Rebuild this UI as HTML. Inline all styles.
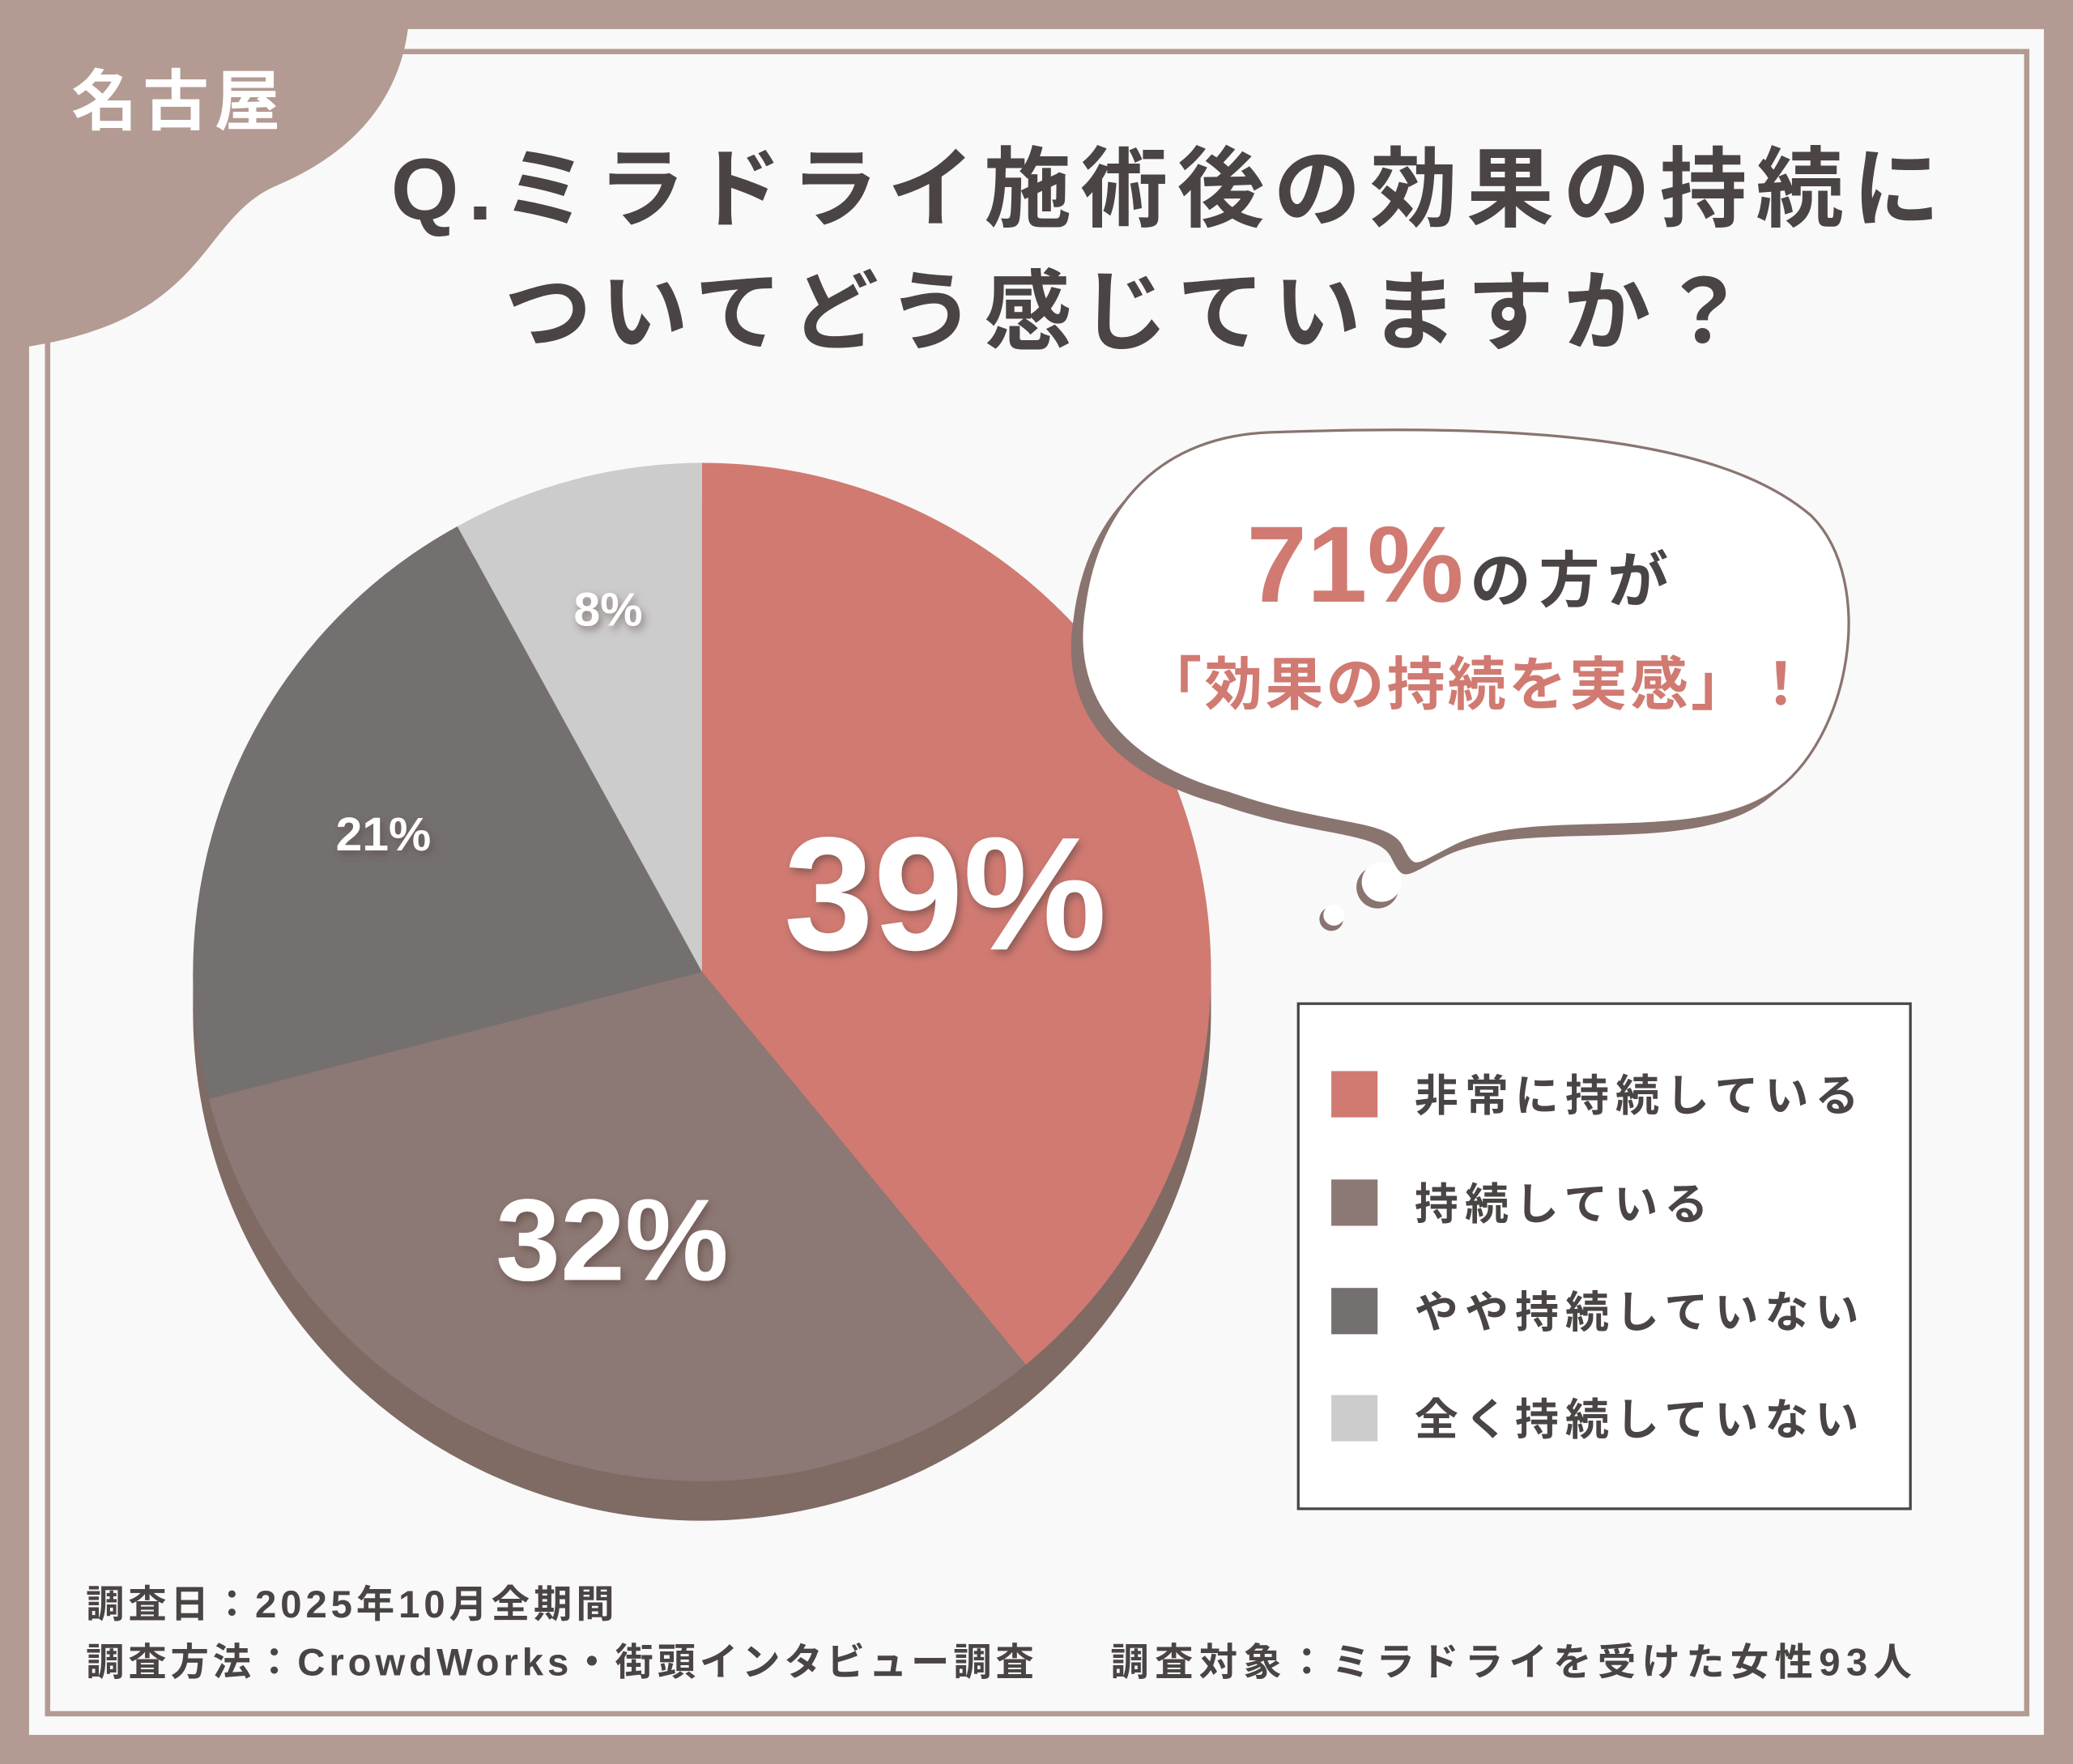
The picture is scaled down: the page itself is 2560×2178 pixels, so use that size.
<!DOCTYPE html>
<html><head><meta charset="utf-8"><style>
html,body{margin:0;padding:0;background:#b39a92;}
svg{display:block;}
text{font-family:"Liberation Sans","Noto Sans CJK JP",sans-serif;font-weight:bold;}
</style></head><body>
<svg width="2560" height="2178" viewBox="0 0 1568 1334" xmlns="http://www.w3.org/2000/svg">
<defs>
<filter id="ts" x="-20%" y="-20%" width="140%" height="140%"><feDropShadow dx="2" dy="3" stdDeviation="3" flood-color="#5a4540" flood-opacity="0.6"/></filter>
</defs>
<rect x="0" y="0" width="1568" height="1334" fill="#b39a92"/>
<rect x="22" y="22" width="1524" height="1290" fill="#f9f9f9"/>
<rect x="36" y="39" width="1497" height="1257" fill="none" stroke="#b39a92" stroke-width="4"/>
<path d="M0 0 L310 0 C310 60 280 110 210 140 C150 165 160 240 22 262 L0 262 Z" fill="#b39a92"/>
<text x="135" y="94" font-size="50" fill="#fff" text-anchor="middle" letter-spacing="4">名古屋</text>
<text x="885" y="166" font-size="66" fill="#4a4444" text-anchor="middle" letter-spacing="7">Q.ミラドライ施術後の効果の持続に</text>
<text x="855" y="259" font-size="66" fill="#4a4444" text-anchor="middle" letter-spacing="7">ついてどう感じていますか？</text>
<circle cx="531" cy="765" r="385" fill="#7f6a64"/>
<rect x="146" y="735" width="770" height="30" fill="#7f6a64"/>
<path d="M531 735 L531 350 A385 385 0 0 1 776 1032 Z" fill="#d07a72"/>
<path d="M531 735 L776 1032 A385 385 0 0 1 158 831 Z" fill="#8c7874"/>
<path d="M531 735 L158 831 A385 385 0 0 1 346 398 Z" fill="#747070"/>
<path d="M531 735 L346 398 A385 385 0 0 1 531 350 Z" fill="#cccccc"/>
<text x="715" y="718" font-size="122" fill="#fff" text-anchor="middle" filter="url(#ts)">39%</text>
<text x="463" y="968" font-size="88" fill="#fff" text-anchor="middle" filter="url(#ts)">32%</text>
<text x="290" y="643" font-size="36" fill="#fff" text-anchor="middle" filter="url(#ts)">21%</text>
<text x="460" y="473" font-size="36" fill="#fff" text-anchor="middle" filter="url(#ts)">8%</text>
<g transform="translate(-8,8)" fill="#8a7470">
<path d="M960 327 C1150 320 1300 330 1370 390 C1420 440 1400 560 1340 600 C1280 640 1160 610 1100 640 C1070 655 1070 660 1060 640 C1050 620 1000 625 930 600 C840 575 810 520 820 460 C830 380 880 330 960 327 Z"/>
</g>
<path d="M960 327 C1150 320 1300 330 1370 390 C1420 440 1400 560 1340 600 C1280 640 1160 610 1100 640 C1070 655 1070 660 1060 640 C1050 620 1000 625 930 600 C840 575 810 520 820 460 C830 380 880 330 960 327 Z" fill="#fff" stroke="#8a7470" stroke-width="2"/>
<circle cx="1042" cy="671" r="16" fill="#8a7470"/><circle cx="1045" cy="667" r="15" fill="#fff"/>
<circle cx="1007" cy="695" r="9" fill="#8a7470"/><circle cx="1009" cy="692" r="8" fill="#fff"/>
<text x="1025" y="455" font-size="82" fill="#d07a72" text-anchor="middle">71%</text>
<text x="1112" y="455" font-size="46" fill="#4a4444" letter-spacing="6">の方が</text>
<text x="1118" y="533" font-size="44" fill="#d07a72" text-anchor="middle" letter-spacing="2">「効果の持続を実感」！</text>
<rect x="982" y="759" width="463" height="382" fill="#fff" stroke="#4a4444" stroke-width="2"/>
<rect x="1007" y="810" width="35" height="35" fill="#d07a72"/>
<rect x="1007" y="892" width="35" height="35" fill="#8c7874"/>
<rect x="1007" y="974" width="35" height="35" fill="#747070"/>
<rect x="1007" y="1055" width="35" height="35" fill="#cccccc"/>
<g font-size="33" fill="#4a4444" letter-spacing="5">
<text x="1070" y="840">非常に持続している</text>
<text x="1070" y="922">持続している</text>
<text x="1070" y="1004">やや持続していない</text>
<text x="1070" y="1085">全く持続していない</text>
</g>
<g font-size="29" fill="#4a4444" letter-spacing="3">
<text x="65" y="1223">調査日：2025年10月全期間</text>
<text x="65" y="1267">調査方法：CrowdWorks・街頭インタビュー調査</text>
<text x="840" y="1267" letter-spacing="4.5">調査対象：ミラドライを受けた女性93人</text>
</g>
</svg>
</body></html>
